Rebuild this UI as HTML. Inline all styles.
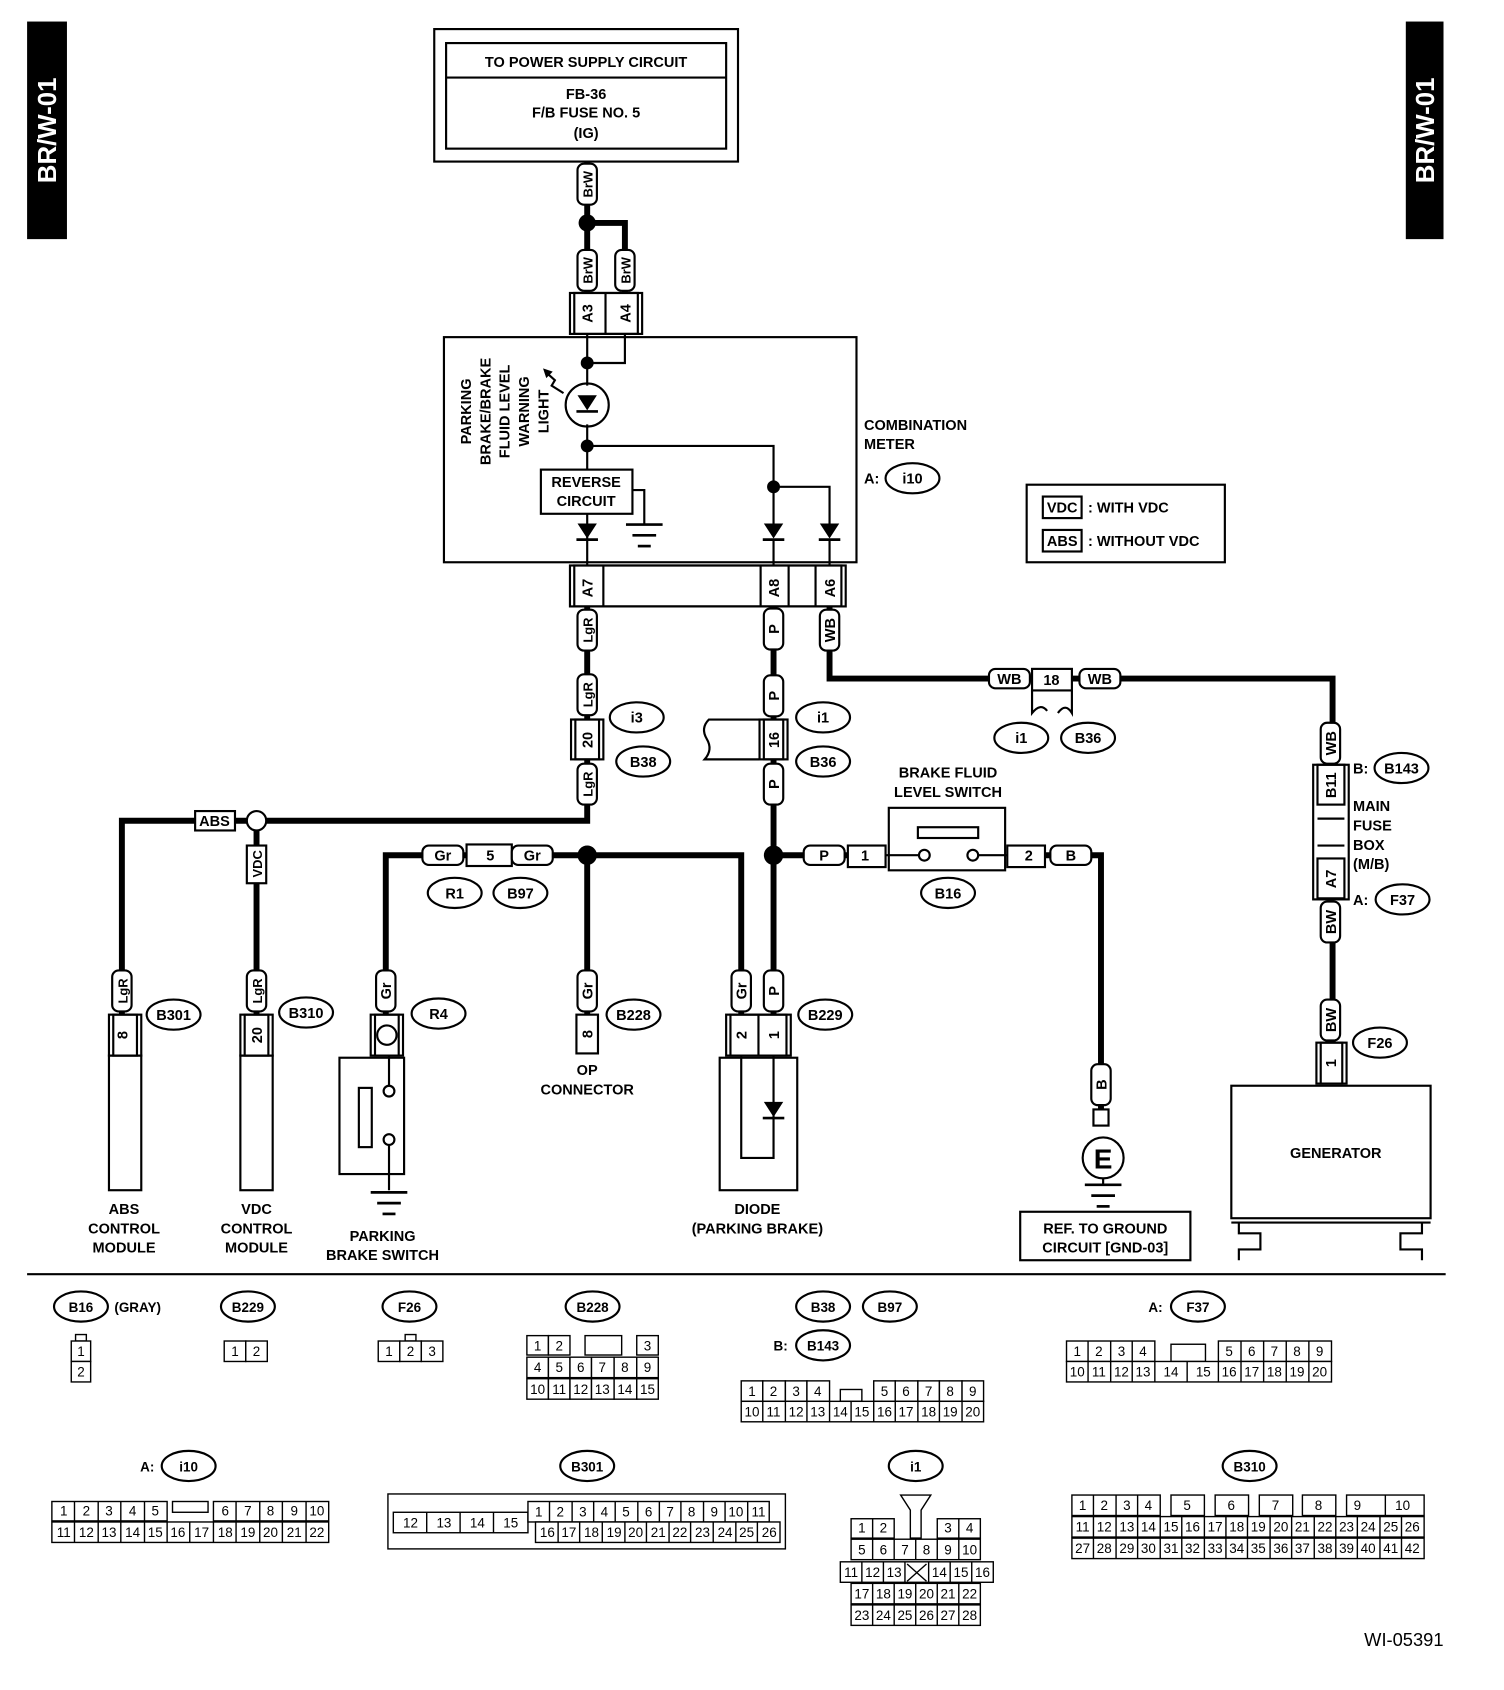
<!DOCTYPE html>
<html><head><meta charset="utf-8"><style>
body{margin:0;background:#fff}
svg{display:block}
text{font-family:"Liberation Sans",sans-serif;font-weight:bold;font-size:13.5px;fill:#000}
.w{stroke:#000;stroke-width:5.5;fill:none}
.t{stroke:#000;stroke-width:2;fill:none}
.f{fill:#fff;stroke:#000;stroke-width:2}
.g text{font-size:12.5px;font-weight:normal}
.g rect{fill:#fff;stroke:#000;stroke-width:1.3}
</style></head><body>
<svg width="1504" height="1690" viewBox="0 0 1396 1569" xmlns="http://www.w3.org/2000/svg">
<defs>
<g id="vp"><rect x="-9" y="-19" width="18" height="38" rx="6" class="f"/></g>
<g id="hp"><rect x="-19" y="-9" width="38" height="18" rx="6" class="f"/></g>
<g id="ov"><ellipse cx="0" cy="0" rx="25" ry="14" class="f"/></g>
<g id="dd"><path d="M-9,-8 L9,-8 L0,6 Z" fill="#000"/><line x1="-10" y1="7" x2="10" y2="7" stroke="#000" stroke-width="2.5"/></g>
<g id="gnd"><line x1="-17" y1="0" x2="17" y2="0" stroke="#000" stroke-width="2.5"/><line x1="-11" y1="10" x2="11" y2="10" stroke="#000" stroke-width="2.5"/><line x1="-6" y1="20" x2="6" y2="20" stroke="#000" stroke-width="2.5"/></g>
</defs>
<!-- side bars -->
<rect x="25" y="20" width="37" height="202" fill="#000"/>
<text transform="translate(52,121) rotate(-90)" text-anchor="middle" style="fill:#fff;font-size:24px">BR/W-01</text>
<rect x="1305" y="20" width="35" height="202" fill="#000"/>
<text transform="translate(1331,121) rotate(-90)" text-anchor="middle" style="fill:#fff;font-size:24px">BR/W-01</text>

<!-- top box -->
<rect x="403" y="27" width="282" height="123" class="t"/>
<rect x="414" y="40" width="260" height="98" class="t"/>
<line x1="414" y1="72" x2="674" y2="72" class="t"/>
<text x="544" y="62" text-anchor="middle">TO POWER SUPPLY CIRCUIT</text>
<text x="544" y="92" text-anchor="middle">FB-36</text>
<text x="544" y="109" text-anchor="middle">F/B FUSE NO. 5</text>
<text x="544" y="128" text-anchor="middle">(IG)</text>

<!-- top wires -->
<path class="w" d="M545,150 V272 M545,207 H580 V272"/>
<circle cx="545" cy="207" r="8"/>
<use href="#vp" x="545" y="171"/><text transform="translate(550,171) rotate(-90)" text-anchor="middle" style="font-size:12px">BrW</text>
<use href="#vp" x="545" y="251"/><text transform="translate(550,251) rotate(-90)" text-anchor="middle" style="font-size:12px">BrW</text>
<use href="#vp" x="580" y="251"/><text transform="translate(585,251) rotate(-90)" text-anchor="middle" style="font-size:12px">BrW</text>
<rect x="529" y="272" width="67" height="38" class="t"/>
<rect x="533" y="272" width="59" height="38" class="t"/>
<line x1="562" y1="272" x2="562" y2="310" class="t"/>
<text transform="translate(550,291) rotate(-90)" text-anchor="middle">A3</text>
<text transform="translate(585,291) rotate(-90)" text-anchor="middle">A4</text>

<!-- combination meter -->
<rect x="412" y="313" width="383" height="209" class="t"/>
<path class="t" d="M545,310 V358 M580,310 V337 H545 M545,394 V436 M545,414 H718 V490 M718,452 H770 V490 M545,477 V525 M718,500 V525 M770,500 V525 M587,455 H598 V487"/>
<circle cx="545" cy="337" r="6"/><circle cx="545" cy="414" r="6"/><circle cx="718" cy="452" r="6"/>
<circle cx="545" cy="376" r="20" class="t"/>
<use href="#dd" x="545" y="375"/>
<path class="t" d="M506,345 L515,353 L512,358 L523,365"/><path d="M504,342 L513,345 L507,351Z"/>
<rect x="502" y="436" width="85" height="41" class="t"/>
<text x="544" y="452" text-anchor="middle">REVERSE</text>
<text x="544" y="470" text-anchor="middle">CIRCUIT</text>
<use href="#gnd" x="598" y="487"/>
<use href="#dd" x="545" y="494"/><use href="#dd" x="718" y="494"/><use href="#dd" x="770" y="494"/>
<g text-anchor="middle">
<text transform="translate(437,382) rotate(-90)">PARKING</text>
<text transform="translate(455,382) rotate(-90)">BRAKE/BRAKE</text>
<text transform="translate(473,382) rotate(-90)">FLUID LEVEL</text>
<text transform="translate(491,382) rotate(-90)">WARNING</text>
<text transform="translate(509,382) rotate(-90)">LIGHT</text>
</g>
<text x="802" y="399">COMBINATION</text>
<text x="802" y="417">METER</text>
<text x="802" y="449">A:</text>
<use href="#ov" x="847" y="444"/><text x="847" y="449" text-anchor="middle">i10</text>

<!-- legend -->
<rect x="953" y="450" width="184" height="72" class="t"/>
<rect x="968" y="461" width="36" height="20" class="t"/><text x="986" y="476" text-anchor="middle">VDC</text>
<text x="1010" y="476">: WITH VDC</text>
<rect x="968" y="492" width="36" height="20" class="t"/><text x="986" y="507" text-anchor="middle">ABS</text>
<text x="1010" y="507">: WITHOUT VDC</text>

<!-- meter bottom connector -->
<rect x="529" y="525" width="256" height="38" class="t"/>
<rect x="533" y="525" width="248" height="38" class="t"/>
<path class="t" d="M560,525 V563 M706,525 V563 M732,525 V563 M757,525 V563"/>
<text transform="translate(550,546) rotate(-90)" text-anchor="middle">A7</text>
<text transform="translate(723,546) rotate(-90)" text-anchor="middle">A8</text>
<text transform="translate(775,546) rotate(-90)" text-anchor="middle">A6</text>

<!-- LgR wire -->
<path class="w" d="M545,563 V668 M545,705 V762 H113 V942 M238,762 V942"/>
<use href="#vp" x="545" y="585"/><text transform="translate(550,585) rotate(-90)" text-anchor="middle" style="font-size:12px">LgR</text>
<use href="#vp" x="545" y="645"/><text transform="translate(550,645) rotate(-90)" text-anchor="middle" style="font-size:12px">LgR</text>
<rect x="530" y="668" width="30" height="37" class="f"/><rect x="534" y="668" width="22" height="37" class="t"/>
<text transform="translate(550,687) rotate(-90)" text-anchor="middle">20</text>
<use href="#vp" x="545" y="728"/><text transform="translate(550,728) rotate(-90)" text-anchor="middle" style="font-size:12px">LgR</text>
<use href="#ov" x="591" y="666"/><text x="591" y="671" text-anchor="middle">i3</text>
<use href="#ov" x="597" y="707"/><text x="597" y="712" text-anchor="middle">B38</text>
<rect x="181" y="753" width="37" height="18" class="f"/><text x="199" y="767" text-anchor="middle">ABS</text>
<circle cx="238" cy="762" r="9" class="f"/>
<rect x="229" y="785" width="18" height="35" class="f"/><text transform="translate(243,802) rotate(-90)" text-anchor="middle" style="font-size:12px">VDC</text>
<use href="#vp" x="113" y="920"/><text transform="translate(118,920) rotate(-90)" text-anchor="middle" style="font-size:12px">LgR</text>
<use href="#vp" x="238" y="920"/><text transform="translate(243,920) rotate(-90)" text-anchor="middle" style="font-size:12px">LgR</text>
<rect x="101" y="942" width="30" height="38" class="t"/><rect x="105" y="942" width="22" height="38" class="t"/>
<text transform="translate(118,961) rotate(-90)" text-anchor="middle">8</text>
<rect x="101" y="980" width="30" height="125" class="t"/>
<rect x="223" y="942" width="30" height="38" class="t"/><rect x="227" y="942" width="22" height="38" class="t"/>
<text transform="translate(243,961) rotate(-90)" text-anchor="middle">20</text>
<rect x="223" y="980" width="30" height="125" class="t"/>
<use href="#ov" x="161" y="942"/><text x="161" y="947" text-anchor="middle">B301</text>
<use href="#ov" x="284" y="940"/><text x="284" y="945" text-anchor="middle">B310</text>
<g text-anchor="middle">
<text x="115" y="1127">ABS</text><text x="115" y="1145">CONTROL</text><text x="115" y="1163">MODULE</text>
<text x="238" y="1127">VDC</text><text x="238" y="1145">CONTROL</text><text x="238" y="1163">MODULE</text>
</g>

<!-- P wire -->
<path class="w" d="M718,563 V668 M718,705 V942"/>
<use href="#vp" x="718" y="584"/><text transform="translate(723,584) rotate(-90)" text-anchor="middle">P</text>
<use href="#vp" x="718" y="646"/><text transform="translate(723,646) rotate(-90)" text-anchor="middle">P</text>
<path class="t" d="M705,668 H658 Q650,676 656,686 Q662,696 654,705 H705"/>
<rect x="705" y="668" width="26" height="37" class="f"/><rect x="709" y="668" width="18" height="37" class="t"/>
<text transform="translate(723,687) rotate(-90)" text-anchor="middle">16</text>
<use href="#vp" x="718" y="728"/><text transform="translate(723,728) rotate(-90)" text-anchor="middle">P</text>
<use href="#ov" x="764" y="666"/><text x="764" y="671" text-anchor="middle">i1</text>
<use href="#ov" x="764" y="707"/><text x="764" y="712" text-anchor="middle">B36</text>
<circle cx="718" cy="794" r="9"/>
<path class="w" d="M718,794 H787"/>
<use href="#hp" x="765" y="794"/><text x="765" y="799" text-anchor="middle">P</text>
<rect x="787" y="785" width="35" height="20" class="f"/><text x="803" y="799" text-anchor="middle">1</text>
<rect x="825" y="750" width="108" height="58" class="t"/>
<rect x="852" y="768" width="56" height="10" class="t"/>
<circle cx="858" cy="794" r="5" class="f"/><circle cx="903" cy="794" r="5" class="f"/>
<path class="t" d="M822,794 H853 M908,794 H935"/>
<rect x="935" y="785" width="35" height="20" class="f"/><text x="955" y="799" text-anchor="middle">2</text>
<path class="w" d="M970,794 H1022 V1045"/>
<use href="#hp" x="994" y="794"/><text x="994" y="799" text-anchor="middle">B</text>
<text x="880" y="722" text-anchor="middle">BRAKE FLUID</text>
<text x="880" y="740" text-anchor="middle">LEVEL SWITCH</text>
<use href="#ov" x="880" y="829"/><text x="880" y="834" text-anchor="middle">B16</text>
<use href="#vp" x="1022" y="1007"/><text transform="translate(1027,1007) rotate(-90)" text-anchor="middle">B</text>
<rect x="1015" y="1030" width="14" height="15" class="f"/>
<circle cx="1024" cy="1075" r="19" class="t" stroke-width="3"/>
<text x="1024" y="1085" text-anchor="middle" style="font-size:26px">E</text>
<path class="t" d="M1024,1094 V1100"/>
<use href="#gnd" x="1024" y="1100"/>
<rect x="947" y="1125" width="158" height="45" class="t"/>
<text x="1026" y="1145" text-anchor="middle">REF. TO GROUND</text>
<text x="1026" y="1163" text-anchor="middle">CIRCUIT [GND-03]</text>

<!-- Gr wire -->
<path class="w" d="M358,942 V794 H433 M475,794 H688 V942 M545,794 V942"/>
<use href="#hp" x="411" y="794"/><text x="411" y="799" text-anchor="middle">Gr</text>
<rect x="433" y="784" width="42" height="20" class="f"/><text x="455" y="799" text-anchor="middle">5</text>
<use href="#hp" x="494" y="794"/><text x="494" y="799" text-anchor="middle">Gr</text>
<circle cx="545" cy="794" r="9"/>
<use href="#ov" x="422" y="829"/><text x="422" y="834" text-anchor="middle">R1</text>
<use href="#ov" x="483" y="829"/><text x="483" y="834" text-anchor="middle">B97</text>
<use href="#vp" x="545" y="920"/><text transform="translate(550,920) rotate(-90)" text-anchor="middle">Gr</text>
<rect x="535" y="942" width="20" height="36" class="f"/><text transform="translate(550,960) rotate(-90)" text-anchor="middle">8</text>
<use href="#ov" x="588" y="942"/><text x="588" y="947" text-anchor="middle">B228</text>
<text x="545" y="998" text-anchor="middle">OP</text><text x="545" y="1016" text-anchor="middle">CONNECTOR</text>
<!-- parking brake switch -->
<use href="#vp" x="358" y="920"/><text transform="translate(363,920) rotate(-90)" text-anchor="middle">Gr</text>
<rect x="344" y="942" width="30" height="38" class="t"/><rect x="348" y="942" width="22" height="38" class="t"/>
<circle cx="359" cy="961" r="9" class="t"/>
<rect x="315" y="982" width="60" height="108" class="t"/>
<rect x="333" y="1010" width="12" height="55" class="t"/>
<path class="t" d="M361,980 V1008 M361,1063 V1105"/>
<circle cx="361" cy="1013" r="5" class="f"/><circle cx="361" cy="1058" r="5" class="f"/>
<use href="#gnd" x="361" y="1107"/>
<use href="#ov" x="407" y="941"/><text x="407" y="946" text-anchor="middle">R4</text>
<text x="355" y="1152" text-anchor="middle">PARKING</text><text x="355" y="1170" text-anchor="middle">BRAKE SWITCH</text>
<!-- diode -->
<use href="#vp" x="688" y="920"/><text transform="translate(693,920) rotate(-90)" text-anchor="middle">Gr</text>
<use href="#vp" x="718" y="920"/><text transform="translate(723,920) rotate(-90)" text-anchor="middle">P</text>
<rect x="674" y="942" width="60" height="38" class="t"/><rect x="678" y="942" width="52" height="38" class="t"/>
<line x1="704" y1="942" x2="704" y2="980" class="t"/>
<text transform="translate(693,961) rotate(-90)" text-anchor="middle">2</text>
<text transform="translate(723,961) rotate(-90)" text-anchor="middle">1</text>
<rect x="668" y="982" width="72" height="123" class="t"/>
<path class="t" d="M688,980 V1075 H718 V980"/>
<use href="#dd" x="718" y="1031"/>
<use href="#ov" x="766" y="942"/><text x="766" y="947" text-anchor="middle">B229</text>
<text x="703" y="1127" text-anchor="middle">DIODE</text><text x="703" y="1145" text-anchor="middle">(PARKING BRAKE)</text>

<!-- WB wire -->
<path class="w" d="M770,563 V630 H1237 V710 M1237,875 V968"/>
<use href="#vp" x="770" y="585"/><text transform="translate(775,585) rotate(-90)" text-anchor="middle">WB</text>
<use href="#hp" x="937" y="630"/><text x="937" y="635" text-anchor="middle">WB</text>
<path class="t" d="M958,641 V662 Q966,652 972,660 M995,641 V662 Q989,652 982,662"/>
<rect x="958" y="621" width="37" height="20" class="f"/><text x="976" y="636" text-anchor="middle">18</text>
<use href="#hp" x="1021" y="630"/><text x="1021" y="635" text-anchor="middle">WB</text>
<use href="#ov" x="948" y="685"/><text x="948" y="690" text-anchor="middle">i1</text>
<use href="#ov" x="1010" y="685"/><text x="1010" y="690" text-anchor="middle">B36</text>
<use href="#vp" x="1235" y="690"/><text transform="translate(1240,690) rotate(-90)" text-anchor="middle">WB</text>
<rect x="1219" y="710" width="33" height="125" class="f"/>
<rect x="1223" y="710" width="25" height="37" class="t"/><text transform="translate(1240,729) rotate(-90)" text-anchor="middle">B11</text>
<rect x="1223" y="797" width="25" height="37" class="t"/><text transform="translate(1240,816) rotate(-90)" text-anchor="middle">A7</text>
<path class="t" d="M1223,760 H1248 M1223,785 H1248"/>
<use href="#vp" x="1235" y="856"/><text transform="translate(1240,856) rotate(-90)" text-anchor="middle">BW</text>
<text x="1256" y="718">B:</text><use href="#ov" x="1301" y="713"/><text x="1301" y="718" text-anchor="middle">B143</text>
<text x="1256" y="753">MAIN</text><text x="1256" y="771">FUSE</text><text x="1256" y="789">BOX</text><text x="1256" y="807">(M/B)</text>
<text x="1256" y="840">A:</text><use href="#ov" x="1302" y="835"/><text x="1302" y="840" text-anchor="middle">F37</text>
<use href="#vp" x="1235" y="947"/><text transform="translate(1240,947) rotate(-90)" text-anchor="middle">BW</text>
<rect x="1222" y="968" width="28" height="38" class="t"/><rect x="1226" y="968" width="20" height="38" class="t"/>
<text transform="translate(1240,987) rotate(-90)" text-anchor="middle">1</text>
<use href="#ov" x="1281" y="968"/><text x="1281" y="973" text-anchor="middle">F26</text>
<rect x="1143" y="1008" width="185" height="123" class="t"/>
<text x="1240" y="1075" text-anchor="middle">GENERATOR</text>
<path class="t" d="M1143,1135 H1328 M1150,1135 V1145 H1170 V1160 H1150 V1170 M1320,1135 V1145 H1300 V1160 H1320 V1170"/>

<line x1="25" y1="1183" x2="1342" y2="1183" class="t"/>

<!-- connector grids -->
<g class="g">
<use href="#ov" x="75" y="1213"/><text x="75" y="1218" text-anchor="middle" style="font-weight:bold">B16</text>
<text x="106" y="1218" style="font-weight:bold">(GRAY)</text>
<rect x="70" y="1239" width="10" height="6"/>
<rect x="66" y="1245" width="18" height="19"/><rect x="66" y="1264" width="18" height="19"/>
<text x="75" y="1259" text-anchor="middle">1</text><text x="75" y="1278" text-anchor="middle">2</text>

<use href="#ov" x="230" y="1213"/><text x="230" y="1218" text-anchor="middle" style="font-weight:bold">B229</text>
<rect x="208" y="1245" width="20" height="19"/><rect x="228" y="1245" width="20" height="19"/>
<text x="218" y="1259" text-anchor="middle">1</text><text x="238" y="1259" text-anchor="middle">2</text>

<use href="#ov" x="380" y="1213"/><text x="380" y="1218" text-anchor="middle" style="font-weight:bold">F26</text>
<rect x="376" y="1239" width="10" height="6"/>
<rect x="351" y="1245" width="20" height="19"/><rect x="371" y="1245" width="20" height="19"/><rect x="391" y="1245" width="20" height="19"/>
<text x="361" y="1259" text-anchor="middle">1</text><text x="381" y="1259" text-anchor="middle">2</text><text x="401" y="1259" text-anchor="middle">3</text>

<use href="#ov" x="550" y="1213"/><text x="550" y="1218" text-anchor="middle" style="font-weight:bold">B228</text>
<rect x="489" y="1240" width="20" height="18"/><rect x="509" y="1240" width="20" height="18"/>
<rect x="543" y="1240" width="34" height="18"/><rect x="591" y="1240" width="20" height="18"/>
<text x="499" y="1254" text-anchor="middle">1</text><text x="519" y="1254" text-anchor="middle">2</text><text x="601" y="1254" text-anchor="middle">3</text>
<rect x="489" y="1260" width="20" height="19"/><rect x="509" y="1260" width="20" height="19"/><rect x="529" y="1260" width="20" height="19"/><rect x="549" y="1260" width="21" height="19"/><rect x="570" y="1260" width="21" height="19"/><rect x="591" y="1260" width="20" height="19"/>
<text x="499" y="1274" text-anchor="middle">4</text><text x="519" y="1274" text-anchor="middle">5</text><text x="539" y="1274" text-anchor="middle">6</text><text x="559" y="1274" text-anchor="middle">7</text><text x="580" y="1274" text-anchor="middle">8</text><text x="601" y="1274" text-anchor="middle">9</text>
<rect x="489" y="1280" width="20" height="19"/><rect x="509" y="1280" width="20" height="19"/><rect x="529" y="1280" width="20" height="19"/><rect x="549" y="1280" width="21" height="19"/><rect x="570" y="1280" width="21" height="19"/><rect x="591" y="1280" width="20" height="19"/>
<text x="499" y="1294" text-anchor="middle">10</text><text x="519" y="1294" text-anchor="middle">11</text><text x="539" y="1294" text-anchor="middle">12</text><text x="559" y="1294" text-anchor="middle">13</text><text x="580" y="1294" text-anchor="middle">14</text><text x="601" y="1294" text-anchor="middle">15</text>

<use href="#ov" x="764" y="1213"/><text x="764" y="1218" text-anchor="middle" style="font-weight:bold">B38</text>
<use href="#ov" x="826" y="1213"/><text x="826" y="1218" text-anchor="middle" style="font-weight:bold">B97</text>
<text x="718" y="1254" style="font-weight:bold">B:</text>
<use href="#ov" x="764" y="1249"/><text x="764" y="1254" text-anchor="middle" style="font-weight:bold">B143</text>
<rect x="688" y="1282" width="20" height="19"/><rect x="708" y="1282" width="21" height="19"/><rect x="729" y="1282" width="20" height="19"/><rect x="749" y="1282" width="21" height="19"/>
<rect x="780" y="1290" width="20" height="11"/>
<rect x="811" y="1282" width="20" height="19"/><rect x="831" y="1282" width="21" height="19"/><rect x="852" y="1282" width="20" height="19"/><rect x="872" y="1282" width="21" height="19"/><rect x="893" y="1282" width="20" height="19"/>
<text x="698" y="1296" text-anchor="middle">1</text><text x="718" y="1296" text-anchor="middle">2</text><text x="739" y="1296" text-anchor="middle">3</text><text x="759" y="1296" text-anchor="middle">4</text><text x="821" y="1296" text-anchor="middle">5</text><text x="841" y="1296" text-anchor="middle">6</text><text x="862" y="1296" text-anchor="middle">7</text><text x="882" y="1296" text-anchor="middle">8</text><text x="903" y="1296" text-anchor="middle">9</text>
<rect x="688" y="1301" width="225" height="19"/>
<path d="M708,1301V1320M729,1301V1320M749,1301V1320M770,1301V1320M790,1301V1320M811,1301V1320M831,1301V1320M852,1301V1320M872,1301V1320M893,1301V1320" stroke="#000" stroke-width="1.3"/>
<text x="698" y="1315" text-anchor="middle">10</text><text x="718" y="1315" text-anchor="middle">11</text><text x="739" y="1315" text-anchor="middle">12</text><text x="759" y="1315" text-anchor="middle">13</text><text x="780" y="1315" text-anchor="middle">14</text><text x="800" y="1315" text-anchor="middle">15</text><text x="821" y="1315" text-anchor="middle">16</text><text x="841" y="1315" text-anchor="middle">17</text><text x="862" y="1315" text-anchor="middle">18</text><text x="882" y="1315" text-anchor="middle">19</text><text x="903" y="1315" text-anchor="middle">20</text>

<text x="1066" y="1218" style="font-weight:bold">A:</text>
<use href="#ov" x="1112" y="1213"/><text x="1112" y="1218" text-anchor="middle" style="font-weight:bold">F37</text>
<rect x="990" y="1245" width="82" height="19"/><rect x="1131" y="1245" width="105" height="19"/>
<rect x="1087" y="1248" width="32" height="16"/>
<path d="M1010,1245V1264M1031,1245V1264M1051,1245V1264M1152,1245V1264M1173,1245V1264M1194,1245V1264M1215,1245V1264" stroke="#000" stroke-width="1.3"/>
<text x="1000" y="1259" text-anchor="middle">1</text><text x="1020" y="1259" text-anchor="middle">2</text><text x="1041" y="1259" text-anchor="middle">3</text><text x="1061" y="1259" text-anchor="middle">4</text><text x="1141" y="1259" text-anchor="middle">5</text><text x="1162" y="1259" text-anchor="middle">6</text><text x="1183" y="1259" text-anchor="middle">7</text><text x="1204" y="1259" text-anchor="middle">8</text><text x="1225" y="1259" text-anchor="middle">9</text>
<rect x="990" y="1264" width="246" height="19"/>
<path d="M1010,1264V1283M1031,1264V1283M1051,1264V1283M1072,1264V1283M1102,1264V1283M1131,1264V1283M1152,1264V1283M1173,1264V1283M1194,1264V1283M1215,1264V1283" stroke="#000" stroke-width="1.3"/>
<text x="1000" y="1278" text-anchor="middle">10</text><text x="1020" y="1278" text-anchor="middle">11</text><text x="1041" y="1278" text-anchor="middle">12</text><text x="1061" y="1278" text-anchor="middle">13</text><text x="1087" y="1278" text-anchor="middle">14</text><text x="1117" y="1278" text-anchor="middle">15</text><text x="1141" y="1278" text-anchor="middle">16</text><text x="1162" y="1278" text-anchor="middle">17</text><text x="1183" y="1278" text-anchor="middle">18</text><text x="1204" y="1278" text-anchor="middle">19</text><text x="1225" y="1278" text-anchor="middle">20</text>

<text x="130" y="1366" style="font-weight:bold">A:</text>
<use href="#ov" x="175" y="1361"/><text x="175" y="1366" text-anchor="middle" style="font-weight:bold">i10</text>
<rect x="48" y="1394" width="107" height="18"/><rect x="198" y="1394" width="107" height="18"/>
<rect x="160" y="1394" width="33" height="10"/>
<path d="M69,1394V1412M91,1394V1412M112,1394V1412M134,1394V1412M219,1394V1412M241,1394V1412M262,1394V1412M284,1394V1412" stroke="#000" stroke-width="1.3"/>
<text x="59" y="1407" text-anchor="middle">1</text><text x="80" y="1407" text-anchor="middle">2</text><text x="101" y="1407" text-anchor="middle">3</text><text x="123" y="1407" text-anchor="middle">4</text><text x="144" y="1407" text-anchor="middle">5</text><text x="209" y="1407" text-anchor="middle">6</text><text x="230" y="1407" text-anchor="middle">7</text><text x="251" y="1407" text-anchor="middle">8</text><text x="273" y="1407" text-anchor="middle">9</text><text x="294" y="1407" text-anchor="middle">10</text>
<rect x="48" y="1413" width="257" height="19"/>
<path d="M69,1413V1432M91,1413V1432M112,1413V1432M134,1413V1432M155,1413V1432M176,1413V1432M198,1413V1432M219,1413V1432M241,1413V1432M262,1413V1432M284,1413V1432" stroke="#000" stroke-width="1.3"/>
<text x="59" y="1427" text-anchor="middle">11</text><text x="80" y="1427" text-anchor="middle">12</text><text x="101" y="1427" text-anchor="middle">13</text><text x="123" y="1427" text-anchor="middle">14</text><text x="144" y="1427" text-anchor="middle">15</text><text x="165" y="1427" text-anchor="middle">16</text><text x="187" y="1427" text-anchor="middle">17</text><text x="209" y="1427" text-anchor="middle">18</text><text x="230" y="1427" text-anchor="middle">19</text><text x="251" y="1427" text-anchor="middle">20</text><text x="273" y="1427" text-anchor="middle">21</text><text x="294" y="1427" text-anchor="middle">22</text>

<use href="#ov" x="545" y="1361"/><text x="545" y="1366" text-anchor="middle" style="font-weight:bold">B301</text>
<rect x="360" y="1387" width="369" height="51"/>
<rect x="365" y="1404" width="125" height="19"/>
<path d="M396,1404V1423M427,1404V1423M458,1404V1423" stroke="#000" stroke-width="1.3"/>
<text x="381" y="1418" text-anchor="middle">12</text><text x="412" y="1418" text-anchor="middle">13</text><text x="443" y="1418" text-anchor="middle">14</text><text x="474" y="1418" text-anchor="middle">15</text>
<rect x="490" y="1394" width="224" height="19"/><rect x="497" y="1413" width="227" height="19"/>
<path d="M510,1394V1413M531,1394V1413M551,1394V1413M571,1394V1413M592,1394V1413M612,1394V1413M632,1394V1413M653,1394V1413M673,1394V1413M694,1394V1413" stroke="#000" stroke-width="1.3"/>
<text x="500" y="1408" text-anchor="middle">1</text><text x="520" y="1408" text-anchor="middle">2</text><text x="541" y="1408" text-anchor="middle">3</text><text x="561" y="1408" text-anchor="middle">4</text><text x="581" y="1408" text-anchor="middle">5</text><text x="602" y="1408" text-anchor="middle">6</text><text x="622" y="1408" text-anchor="middle">7</text><text x="642" y="1408" text-anchor="middle">8</text><text x="663" y="1408" text-anchor="middle">9</text><text x="683" y="1408" text-anchor="middle">10</text><text x="704" y="1408" text-anchor="middle">11</text>
<path d="M518,1413V1432M538,1413V1432M559,1413V1432M580,1413V1432M600,1413V1432M621,1413V1432M641,1413V1432M662,1413V1432M683,1413V1432M703,1413V1432" stroke="#000" stroke-width="1.3"/>
<text x="508" y="1427" text-anchor="middle">16</text><text x="528" y="1427" text-anchor="middle">17</text><text x="549" y="1427" text-anchor="middle">18</text><text x="570" y="1427" text-anchor="middle">19</text><text x="590" y="1427" text-anchor="middle">20</text><text x="611" y="1427" text-anchor="middle">21</text><text x="631" y="1427" text-anchor="middle">22</text><text x="652" y="1427" text-anchor="middle">23</text><text x="673" y="1427" text-anchor="middle">24</text><text x="693" y="1427" text-anchor="middle">25</text><text x="714" y="1427" text-anchor="middle">26</text>

<use href="#ov" x="850" y="1361"/><text x="850" y="1366" text-anchor="middle" style="font-weight:bold">i1</text>
<path d="M836,1388 H864 L855,1402 V1428 H845 V1402 Z" fill="#fff" stroke="#000" stroke-width="1.3"/>
<rect x="790" y="1410" width="40" height="18"/><rect x="870" y="1410" width="40" height="18"/>
<path d="M810,1410V1428M890,1410V1428" stroke="#000" stroke-width="1.3"/>
<text x="800" y="1423" text-anchor="middle">1</text><text x="820" y="1423" text-anchor="middle">2</text><text x="880" y="1423" text-anchor="middle">3</text><text x="900" y="1423" text-anchor="middle">4</text>
<rect x="790" y="1429" width="120" height="19"/>
<path d="M810,1429V1448M830,1429V1448M850,1429V1448M870,1429V1448M890,1429V1448" stroke="#000" stroke-width="1.3"/>
<text x="800" y="1443" text-anchor="middle">5</text><text x="820" y="1443" text-anchor="middle">6</text><text x="840" y="1443" text-anchor="middle">7</text><text x="860" y="1443" text-anchor="middle">8</text><text x="880" y="1443" text-anchor="middle">9</text><text x="900" y="1443" text-anchor="middle">10</text>
<rect x="780" y="1450" width="142" height="19"/>
<path d="M800,1450V1469M820,1450V1469M840,1450V1469M862,1450V1469M882,1450V1469M902,1450V1469M842,1452L860,1468M860,1452L842,1468" stroke="#000" stroke-width="1.3"/>
<text x="790" y="1464" text-anchor="middle">11</text><text x="810" y="1464" text-anchor="middle">12</text><text x="830" y="1464" text-anchor="middle">13</text><text x="872" y="1464" text-anchor="middle">14</text><text x="892" y="1464" text-anchor="middle">15</text><text x="912" y="1464" text-anchor="middle">16</text>
<rect x="790" y="1470" width="120" height="19"/><rect x="790" y="1490" width="120" height="19"/>
<path d="M810,1470V1509M830,1470V1509M850,1470V1509M870,1470V1509M890,1470V1509" stroke="#000" stroke-width="1.3"/>
<text x="800" y="1484" text-anchor="middle">17</text><text x="820" y="1484" text-anchor="middle">18</text><text x="840" y="1484" text-anchor="middle">19</text><text x="860" y="1484" text-anchor="middle">20</text><text x="880" y="1484" text-anchor="middle">21</text><text x="900" y="1484" text-anchor="middle">22</text>
<text x="800" y="1504" text-anchor="middle">23</text><text x="820" y="1504" text-anchor="middle">24</text><text x="840" y="1504" text-anchor="middle">25</text><text x="860" y="1504" text-anchor="middle">26</text><text x="880" y="1504" text-anchor="middle">27</text><text x="900" y="1504" text-anchor="middle">28</text>

<use href="#ov" x="1160" y="1361"/><text x="1160" y="1366" text-anchor="middle" style="font-weight:bold">B310</text>
<rect x="995" y="1388" width="82" height="19"/>
<path d="M1015,1388V1407M1036,1388V1407M1056,1388V1407" stroke="#000" stroke-width="1.3"/>
<rect x="1087" y="1388" width="31" height="19"/><rect x="1128" y="1388" width="31" height="19"/><rect x="1169" y="1388" width="31" height="19"/><rect x="1209" y="1388" width="31" height="19"/><rect x="1250" y="1388" width="72" height="19"/>
<line x1="1286" y1="1388" x2="1286" y2="1407" stroke="#000" stroke-width="1.3"/>
<text x="1005" y="1402" text-anchor="middle">1</text><text x="1025" y="1402" text-anchor="middle">2</text><text x="1046" y="1402" text-anchor="middle">3</text><text x="1066" y="1402" text-anchor="middle">4</text><text x="1102" y="1402" text-anchor="middle">5</text><text x="1143" y="1402" text-anchor="middle">6</text><text x="1184" y="1402" text-anchor="middle">7</text><text x="1224" y="1402" text-anchor="middle">8</text><text x="1260" y="1402" text-anchor="middle">9</text><text x="1302" y="1402" text-anchor="middle">10</text>
<rect x="995" y="1408" width="327" height="19"/><rect x="995" y="1428" width="327" height="19"/>
<path d="M1015,1408V1447M1036,1408V1447M1056,1408V1447M1077,1408V1447M1097,1408V1447M1118,1408V1447M1138,1408V1447M1158,1408V1447M1179,1408V1447M1199,1408V1447M1220,1408V1447M1240,1408V1447M1260,1408V1447M1281,1408V1447M1301,1408V1447" stroke="#000" stroke-width="1.3"/>
<text x="1005" y="1422" text-anchor="middle">11</text><text x="1025" y="1422" text-anchor="middle">12</text><text x="1046" y="1422" text-anchor="middle">13</text><text x="1066" y="1422" text-anchor="middle">14</text><text x="1087" y="1422" text-anchor="middle">15</text><text x="1107" y="1422" text-anchor="middle">16</text><text x="1128" y="1422" text-anchor="middle">17</text><text x="1148" y="1422" text-anchor="middle">18</text><text x="1168" y="1422" text-anchor="middle">19</text><text x="1189" y="1422" text-anchor="middle">20</text><text x="1209" y="1422" text-anchor="middle">21</text><text x="1230" y="1422" text-anchor="middle">22</text><text x="1250" y="1422" text-anchor="middle">23</text><text x="1270" y="1422" text-anchor="middle">24</text><text x="1291" y="1422" text-anchor="middle">25</text><text x="1311" y="1422" text-anchor="middle">26</text>
<text x="1005" y="1442" text-anchor="middle">27</text><text x="1025" y="1442" text-anchor="middle">28</text><text x="1046" y="1442" text-anchor="middle">29</text><text x="1066" y="1442" text-anchor="middle">30</text><text x="1087" y="1442" text-anchor="middle">31</text><text x="1107" y="1442" text-anchor="middle">32</text><text x="1128" y="1442" text-anchor="middle">33</text><text x="1148" y="1442" text-anchor="middle">34</text><text x="1168" y="1442" text-anchor="middle">35</text><text x="1189" y="1442" text-anchor="middle">36</text><text x="1209" y="1442" text-anchor="middle">37</text><text x="1230" y="1442" text-anchor="middle">38</text><text x="1250" y="1442" text-anchor="middle">39</text><text x="1270" y="1442" text-anchor="middle">40</text><text x="1291" y="1442" text-anchor="middle">41</text><text x="1311" y="1442" text-anchor="middle">42</text>
</g>
<text x="1340" y="1528" text-anchor="end" style="font-weight:normal;font-size:17px">WI-05391</text>
</svg>
</body></html>
